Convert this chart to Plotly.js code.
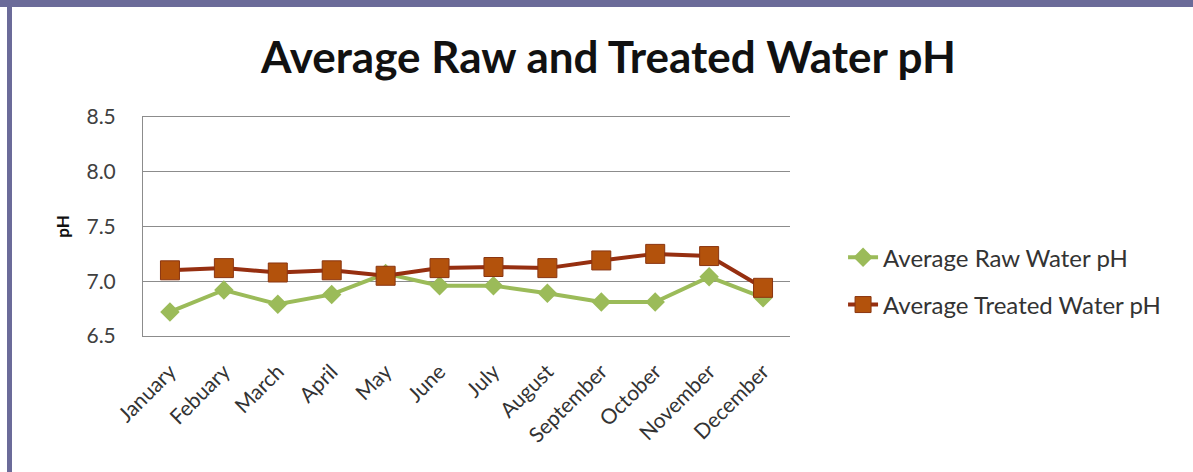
<!DOCTYPE html>
<html>
<head>
<meta charset="utf-8">
<script src="https://cdn.plot.ly/plotly-3.0.1.min.js"></script>
<style>
  html, body { margin: 0; padding: 0; background: #ffffff; }
  #wrap { position: relative; width: 1193px; height: 472px; overflow: hidden; }
  #chart { width: 1193px; height: 472px; }
  .edge-top { position: absolute; left: 0; top: 0; width: 1193px; height: 7px; background: #6b6b99; }
  .edge-left { position: absolute; left: 7px; top: 0; width: 5px; height: 472px; background: #6b6b99; }
</style>
</head>
<body>
<div id="wrap">
  <div id="chart"></div>
  <div class="edge-top"></div>
  <div class="edge-left"></div>
</div>
<script>
// Monthly average pH of raw and treated water
const months = ["January", "Febuary", "March", "April", "May", "June",
                "July", "August", "September", "October", "November", "December"];
const rawPH     = [6.72, 6.92, 6.79, 6.88, 7.07, 6.96, 6.96, 6.89, 6.81, 6.81, 7.04, 6.85];
const treatedPH = [7.10, 7.12, 7.08, 7.10, 7.05, 7.12, 7.13, 7.12, 7.19, 7.25, 7.23, 6.94];
const yTicks = [6.5, 7.0, 7.5, 8.0, 8.5];

const baseFont = "Lato, 'Open Sans', 'DejaVu Sans', sans-serif";

const traces = [
  {
    x: months, y: rawPH, name: "Average Raw Water pH",
    type: "scatter", mode: "lines+markers", legendgroup: "raw",
    line: { color: "#9bbb59", width: 4 },
    marker: { symbol: "diamond", size: 15, color: "#9bbb59" }
  },
  {
    x: months, y: treatedPH, name: "Average Treated Water pH",
    type: "scatter", mode: "lines+markers", legendgroup: "treated",
    line: { color: "#962f10", width: 4 },
    marker: { symbol: "square", size: 19, color: "#b3520c",
              line: { color: "#8a3510", width: 1 } }
  }
];

const layout = {
  width: 1193, height: 472,
  paper_bgcolor: "#ffffff", plot_bgcolor: "#ffffff",
  margin: { l: 143, r: 403, t: 117, b: 136 },
  font: { family: baseFont, color: "#404040" },
  title: {
    text: "<b>Average Raw and Treated Water pH</b>",
    font: { family: baseFont, size: 44, color: "#111111" },
    x: 0.51, xanchor: "center", xref: "container",
    y: 0.877, yanchor: "middle", yref: "container"
  },
  xaxis: {
    type: "category", range: [-0.5, 11.5],
    tickangle: -45, tickfont: { size: 21, color: "#333333" },
    ticklabelstandoff: 14,
    showgrid: false, zeroline: false,
    showline: true, mirror: true, linecolor: "#8c8c8c", linewidth: 1,
    ticks: "", fixedrange: true
  },
  yaxis: {
    range: [6.5, 8.5], tickvals: yTicks, ticktext: yTicks.map(v => v.toFixed(1)),
    tickfont: { size: 21, color: "#404040" },
    ticklabelstandoff: 22,
    showgrid: true, gridcolor: "#8c8c8c", gridwidth: 1,
    showline: true, linecolor: "#8c8c8c", linewidth: 1,
    zeroline: false, ticks: "", ticklen: 0,
    title: { text: "<b>pH</b>", font: { size: 17, color: "#111111" }, standoff: 12 },
    fixedrange: true
  },
  showlegend: true,
  legend: {
    x: 1.082, xanchor: "left", y: 0.25, yanchor: "middle",
    font: { size: 24, color: "#333333" },
    tracegroupgap: 13, traceorder: "grouped",
    bgcolor: "rgba(0,0,0,0)"
  }
};

Plotly.newPlot("chart", traces, layout, { displayModeBar: false, staticPlot: true });
</script>
</body>
</html>
